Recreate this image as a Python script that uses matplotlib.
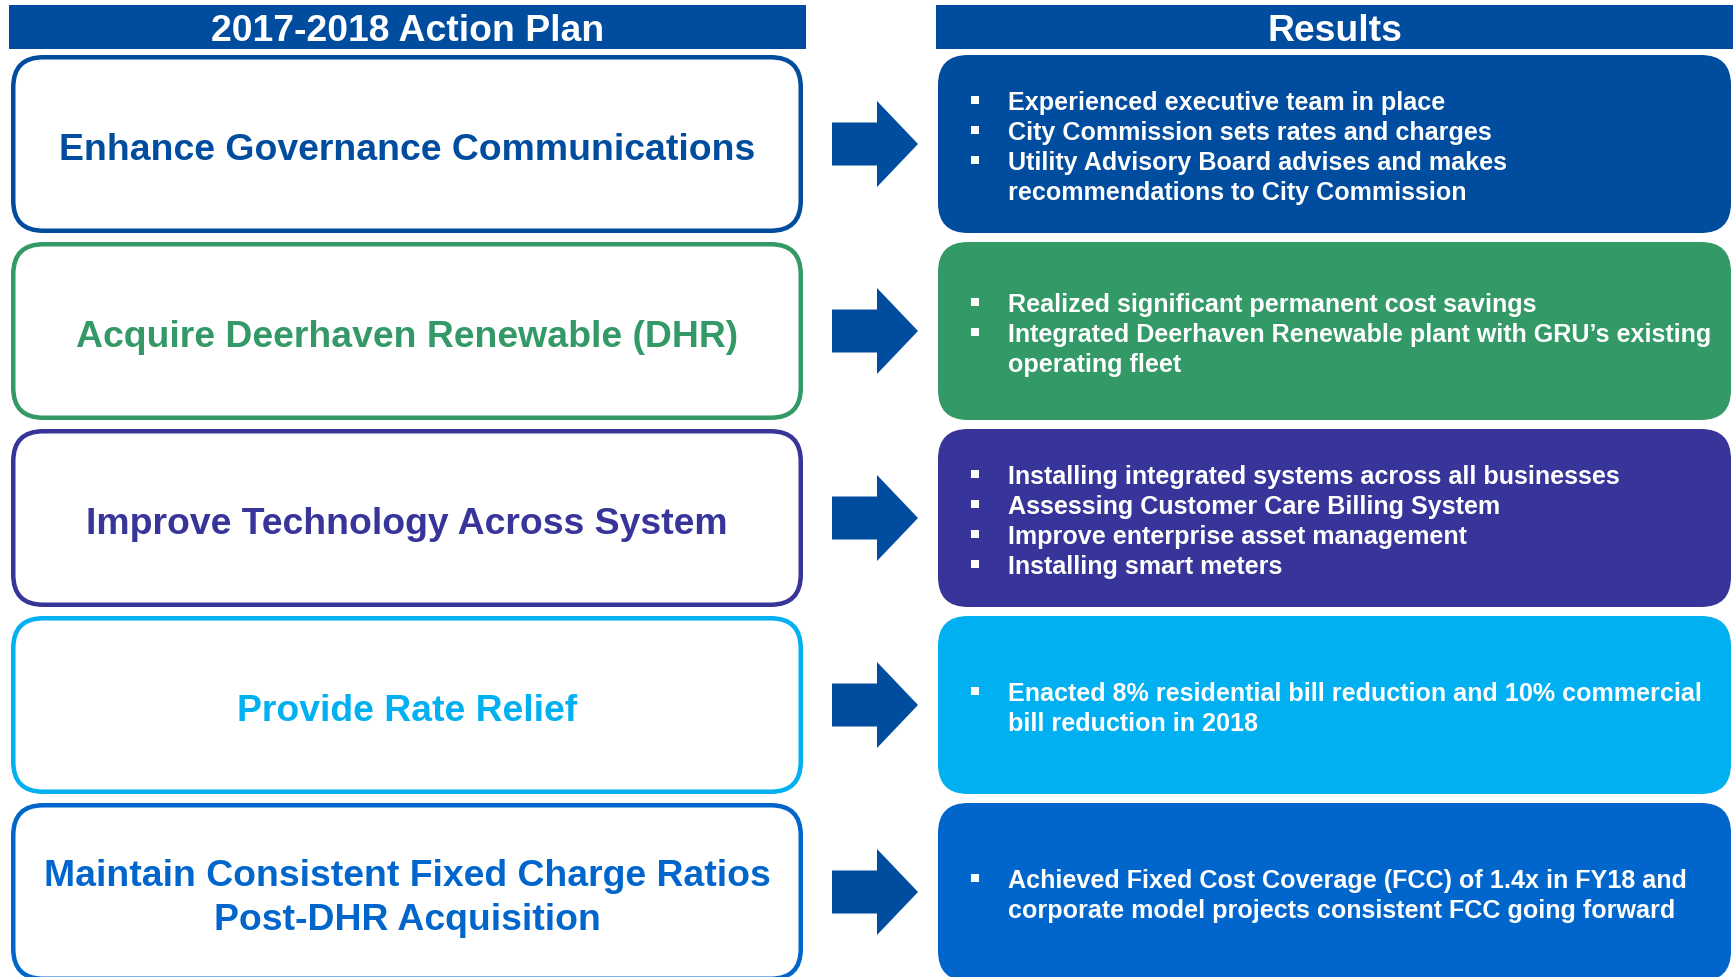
import matplotlib.pyplot as plt
from matplotlib.patches import FancyBboxPatch, Rectangle, Polygon

# header titles
left_header = '2017-2018 Action Plan'
right_header = 'Results'

# action plan items (left column)
actions = ['Enhance Governance Communications',
           'Acquire Deerhaven Renewable (DHR)',
           'Improve Technology Across System',
           'Provide Rate Relief',
           'Maintain Consistent Fixed Charge Ratios\nPost-DHR Acquisition']

# result bullets (right column), '\n' marks a wrapped line
results = [
    ['Experienced executive team in place',
     'City Commission sets rates and charges',
     'Utility Advisory Board advises and makes\nrecommendations to City Commission'],
    ['Realized significant permanent cost savings',
     'Integrated Deerhaven Renewable plant with GRU\u2019s existing\noperating fleet'],
    ['Installing integrated systems across all businesses',
     'Assessing Customer Care Billing System',
     'Improve enterprise asset management',
     'Installing smart meters'],
    ['Enacted 8% residential bill reduction and 10% commercial\nbill reduction in 2018'],
    ['Achieved Fixed Cost Coverage (FCC) of 1.4x in FY18 and\ncorporate model projects consistent FCC going forward'],
]

row_colors = ['#004C9E', '#339966', '#37349A', '#00B0F0', '#0066CC']
header_color = '#004C9E'
arrow_color = '#004C9E'

W, H = 1735, 978
fig = plt.figure(figsize=(W / 100, H / 100), dpi=100)
ax = fig.add_axes([0, 0, 1, 1])
ax.set_xlim(0, W)
ax.set_ylim(H, 0)
ax.axis('off')

font = 'Liberation Sans'

# layout (pixels)
left_x0, left_x1 = 11, 803
right_x0, right_x1 = 938, 1731
row_top0, row_h, row_pitch = 56, 178, 187
big_fs, small_fs = 26.9, 18.1
big_cap, small_cap = 13.4, 9.0
line_gap = 30
big_gap = 44
lw = 4.5

# headers
for x0, x1, label in [(9, 806, left_header), (936, 1733, right_header)]:
    ax.add_patch(Rectangle((x0, 6), x1 - x0, 44, color=header_color, lw=0))
    ax.text((x0 + x1) / 2, 28 + big_cap, label, color='white', fontsize=big_fs,
            fontweight='bold', family=font, ha='center', va='baseline')

for i, (act, res, col) in enumerate(zip(actions, results, row_colors)):
    top = row_top0 + i * row_pitch
    cy = top + row_h / 2

    # left outlined box
    ax.add_patch(FancyBboxPatch((left_x0 + lw / 2, top + lw / 2),
                                left_x1 - left_x0 - lw, row_h - lw,
                                boxstyle='round,pad=0,rounding_size=30',
                                fc='white', ec=col, lw=lw * 0.72))
    lines = act.split('\n')
    y0 = cy + 1.5 - big_gap * (len(lines) - 1) / 2
    for k, ln in enumerate(lines):
        ax.text((left_x0 + left_x1) / 2, y0 + k * big_gap + big_cap, ln,
                color=col, fontsize=big_fs, fontweight='bold', family=font,
                ha='center', va='baseline')

    # arrow
    ax.add_patch(Polygon([(832, cy - 21.5), (877, cy - 21.5), (877, cy - 43),
                          (918, cy), (877, cy + 43), (877, cy + 21.5),
                          (832, cy + 21.5)], closed=True, color=arrow_color, lw=0))

    # right filled box
    ax.add_patch(FancyBboxPatch((right_x0, top), right_x1 - right_x0, row_h,
                                boxstyle='round,pad=0,rounding_size=30',
                                fc=col, ec='none'))
    rlines = []
    for item in res:
        parts = item.split('\n')
        rlines.append((parts[0], True))
        rlines += [(p, False) for p in parts[1:]]
    y0 = cy + 1 - line_gap * (len(rlines) - 1) / 2
    for k, (ln, bullet) in enumerate(rlines):
        y = y0 + k * line_gap
        if bullet:
            ax.plot([975], [y], 's', color='white', ms=5.5, mew=0)
        ax.text(1008, y + small_cap, ln, color='white', fontsize=small_fs,
                fontweight='bold', family=font, ha='left', va='baseline')

fig.savefig('out.png', dpi=100)
